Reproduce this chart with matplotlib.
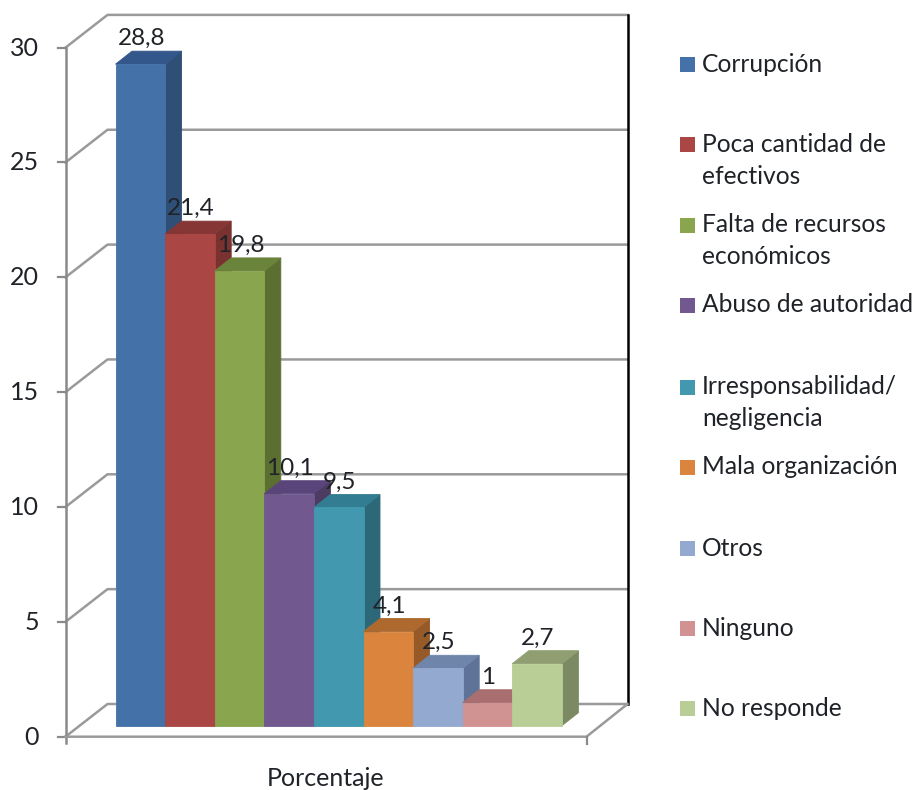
import matplotlib
matplotlib.use('Agg')
import matplotlib.pyplot as plt
from matplotlib.patches import Polygon

categories = ['Corrupción', 'Poca cantidad de\nefectivos', 'Falta de recursos\neconómicos',
              'Abuso de autoridad', 'Irresponsabilidad/\nnegligencia', 'Mala organización',
              'Otros', 'Ninguno', 'No responde']
values = [28.8, 21.4, 19.8, 10.1, 9.5, 4.1, 2.5, 1, 2.7]
value_labels = ['28,8', '21,4', '19,8', '10,1', '9,5', '4,1', '2,5', '1', '2,7']
front = ['#4472a8', '#aa4643', '#89a54e', '#71588f', '#4198af', '#db843d', '#93a9cf', '#d19392', '#b9cd96']
top = ['#33578a', '#863735', '#6b843c', '#59457a', '#337d92', '#ae6a2e', '#6f86aa', '#a96f70', '#909f72']
side = ['#2f4f76', '#7a3231', '#5b6f30', '#4d3c62', '#2c6878', '#965a29', '#5f7399', '#8f6463', '#7c8a63']
ticks = [0, 5, 10, 15, 20, 25, 30]
legend_y = [64, 144, 225, 305, 387, 467, 548, 628, 708]

W, H = 916, 790
px = 22.97
y0_front = 736.7
y0_back = 704
left_x = 65.5
back_x = 107.5
right_x = 627.5
floor_x = 586.5
bar_x0 = 115.5
bar_w = 49.6
bar_base = 725.7
dx_bar, dy_bar = 16.5, -13

plt.rcParams['font.family'] = ['Lato', 'DejaVu Sans']
txt = '#1f2328'
grid = '#9a9a9a'
axis = '#8a8a8a'

fig = plt.figure(figsize=(W / 100, H / 100), dpi=100)
ax = fig.add_axes([0, 0, 1, 1])
ax.set_xlim(0, W)
ax.set_ylim(H, 0)
ax.axis('off')

# paredes y rejilla
for t in ticks:
    yf = y0_front - t * px
    yb = y0_back - t * px
    ax.plot([left_x, back_x, right_x], [yf, yb, yb], color=grid, lw=1.8, zorder=1)
    ax.plot([left_x - 8, left_x], [yf, yf], color=axis, lw=1.6, zorder=1)
    ax.text(39, yf + 0.5, str(t), ha='right', va='center', fontsize=18, color=txt)
ax.plot([left_x, left_x], [y0_front + 6, y0_front - 30 * px], color=axis, lw=1.8, zorder=1)
ax.plot([right_x, right_x], [y0_back, y0_back - 30 * px], color='black', lw=1.8, zorder=1)
ax.plot([left_x, floor_x, right_x], [y0_front, y0_front, y0_back], color=grid, lw=1.8, zorder=1)
ax.plot([floor_x, floor_x], [y0_front, y0_front + 7], color=axis, lw=1.6, zorder=1)

# barras
for i, v in enumerate(values):
    x = bar_x0 + i * bar_w
    ytop = bar_base - v * px
    ax.add_patch(Polygon([(x + bar_w, bar_base), (x + bar_w + dx_bar, bar_base + dy_bar),
                          (x + bar_w + dx_bar, ytop + dy_bar), (x + bar_w, ytop)],
                         fc=side[i], ec=side[i], lw=0.6, zorder=2 + i))
    ax.add_patch(Polygon([(x, ytop), (x + dx_bar, ytop + dy_bar),
                          (x + bar_w + dx_bar, ytop + dy_bar), (x + bar_w, ytop)],
                         fc=top[i], ec=top[i], lw=0.6, zorder=2 + i))
    ax.add_patch(Polygon([(x, bar_base), (x, ytop), (x + bar_w, ytop), (x + bar_w, bar_base)],
                         fc=front[i], ec=front[i], lw=0.6, zorder=2 + i))
    ax.text(x + bar_w / 2 + 1, ytop + dy_bar - 12.5, value_labels[i], ha='center', va='center',
            fontsize=17.5, color=txt, zorder=20)

ax.text(326, 778, 'Porcentaje', ha='center', va='center', fontsize=18, color=txt)

# leyenda
for i, name in enumerate(categories):
    y = legend_y[i]
    ax.add_patch(Polygon([(680, y - 7), (695, y - 7), (695, y + 8), (680, y + 8)], fc=front[i], ec='none'))
    for j, line in enumerate(name.split('\n')):
        ax.text(702, y + j * 32, line, ha='left', va='center', fontsize=17.7, color=txt)

fig.savefig('out.png', dpi=100)
